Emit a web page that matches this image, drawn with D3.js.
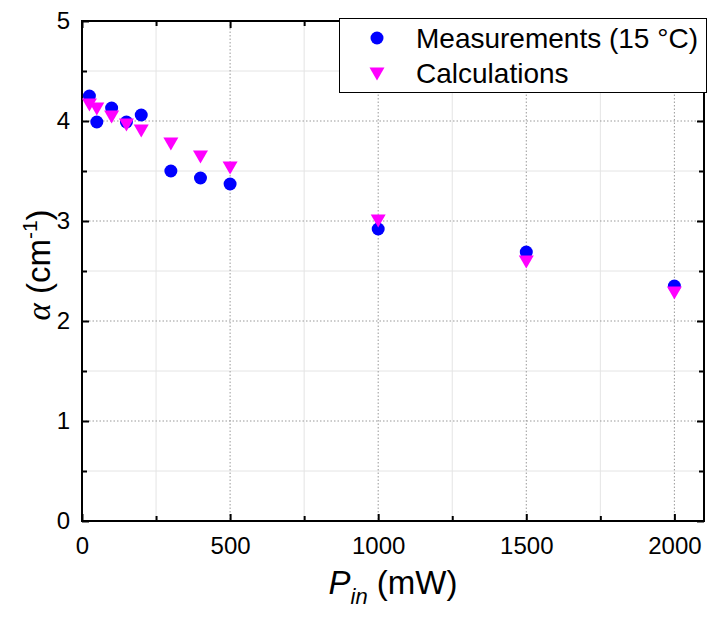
<!DOCTYPE html>
<html>
<head>
<meta charset="utf-8">
<script src="https://cdn.jsdelivr.net/npm/d3@7"></script>
<style>
  html, body { margin: 0; padding: 0; background: #fff; }
  svg { display: block; font-family: "Liberation Sans", Arial, sans-serif; }
</style>
</head>
<body>
<svg id="chart" width="708" height="619"></svg>
<script>
// ---- data ----
const powers = [25, 50, 100, 150, 200, 300, 400, 500, 1000, 1500, 2000];
const measured = [4.25, 3.99, 4.13, 3.99, 4.06, 3.50, 3.43, 3.37, 2.92, 2.69, 2.35];
const calculated = [4.16, 4.12, 4.04, 3.96, 3.90, 3.77, 3.64, 3.53, 3.00, 2.59, 2.28];
const xMajorTicks = [0, 500, 1000, 1500, 2000];
const xMinorTicks = [250, 750, 1250, 1750];
const yMajorTicks = [0, 1, 2, 3, 4, 5];
const yMinorTicks = [0.5, 1.5, 2.5, 3.5, 4.5];
const seriesNames = ["Measurements (15 °C)", "Calculations"];

const svg = d3.select("#chart");
const m = { left: 82, right: 704, top: 21, bottom: 521 };
const x = d3.scaleLinear().domain([0, 2100]).range([m.left, m.right]);
const y = d3.scaleLinear().domain([0, 5]).range([m.bottom, m.top]);

// minor grid (solid light)
const grid = svg.append("g");
grid.selectAll(".vx").data(xMinorTicks).join("line")
  .attr("x1", d => x(d)).attr("x2", d => x(d)).attr("y1", m.top).attr("y2", m.bottom)
  .attr("stroke", "#e4e4e4").attr("stroke-width", 1);
grid.selectAll(".hy").data(yMinorTicks).join("line")
  .attr("y1", d => y(d)).attr("y2", d => y(d)).attr("x1", m.left).attr("x2", m.right)
  .attr("stroke", "#e4e4e4").attr("stroke-width", 1);
// major grid (dotted)
grid.selectAll(".vX").data(xMajorTicks.filter(d => d > 0)).join("line")
  .attr("x1", d => x(d)).attr("x2", d => x(d)).attr("y1", m.top).attr("y2", m.bottom)
  .attr("stroke", "#999").attr("stroke-width", 1).attr("stroke-dasharray", "1.5,2");
grid.selectAll(".hY").data(yMajorTicks.filter(d => d > 0 && d < 5)).join("line")
  .attr("y1", d => y(d)).attr("y2", d => y(d)).attr("x1", m.left).attr("x2", m.right)
  .attr("stroke", "#999").attr("stroke-width", 1).attr("stroke-dasharray", "1.5,2");

// axes with inward ticks
const tickLen = 7, minorLen = 5;
function styleAxis(g) {
  g.select(".domain").remove();
  g.selectAll(".tick line").attr("stroke", "#000").attr("stroke-width", 2);
}
const fontSize = 24;
// bottom
const xAxisB = svg.append("g").attr("transform", `translate(0,${m.bottom})`)
  .call(d3.axisBottom(x).tickValues(xMajorTicks).tickSize(-tickLen).tickPadding(16).tickFormat(d3.format("d")));
styleAxis(xAxisB);
xAxisB.selectAll("text").attr("font-size", fontSize).attr("fill", "#000").attr("font-family", "Liberation Sans, Arial, sans-serif");
svg.append("g").attr("transform", `translate(0,${m.bottom})`)
  .call(d3.axisBottom(x).tickValues(xMinorTicks).tickSize(-minorLen).tickFormat(""))
  .call(styleAxis);
// top
svg.append("g").attr("transform", `translate(0,${m.top})`)
  .call(d3.axisTop(x).tickValues(xMajorTicks).tickSize(-tickLen).tickFormat(""))
  .call(styleAxis);
svg.append("g").attr("transform", `translate(0,${m.top})`)
  .call(d3.axisTop(x).tickValues(xMinorTicks).tickSize(-minorLen).tickFormat(""))
  .call(styleAxis);
// left
const yAxisL = svg.append("g").attr("transform", `translate(${m.left},0)`)
  .call(d3.axisLeft(y).tickValues(yMajorTicks).tickSize(-tickLen).tickPadding(12).tickFormat(d3.format("d")));
styleAxis(yAxisL);
yAxisL.selectAll("text").attr("font-size", fontSize).attr("fill", "#000").attr("font-family", "Liberation Sans, Arial, sans-serif");
svg.append("g").attr("transform", `translate(${m.left},0)`)
  .call(d3.axisLeft(y).tickValues(yMinorTicks).tickSize(-minorLen).tickFormat(""))
  .call(styleAxis);
// right
svg.append("g").attr("transform", `translate(${m.right},0)`)
  .call(d3.axisRight(y).tickValues(yMajorTicks).tickSize(-tickLen).tickFormat(""))
  .call(styleAxis);
svg.append("g").attr("transform", `translate(${m.right},0)`)
  .call(d3.axisRight(y).tickValues(yMinorTicks).tickSize(-minorLen).tickFormat(""))
  .call(styleAxis);

// frame
svg.append("rect").attr("x", m.left).attr("y", m.top)
  .attr("width", m.right - m.left).attr("height", m.bottom - m.top)
  .attr("fill", "none").attr("stroke", "#000").attr("stroke-width", 2);

// data
const pts = powers.map((p, i) => ({ p, meas: measured[i], calc: calculated[i] }));
const tri = (cx, cy) => `M${cx - 7.5},${cy - 6.5}L${cx + 7.5},${cy - 6.5}L${cx},${cy + 6.5}Z`;
svg.append("g").selectAll("circle").data(pts).join("circle")
  .attr("cx", d => x(d.p)).attr("cy", d => y(d.meas)).attr("r", 6.5).attr("fill", "#0000ff");
svg.append("g").selectAll("path").data(pts).join("path")
  .attr("d", d => tri(x(d.p), y(d.calc))).attr("fill", "#ff00ff");

// legend
const lg = svg.append("g");
lg.append("rect").attr("x", 339.5).attr("y", 18.5).attr("width", 367).attr("height", 74)
  .attr("fill", "#fff").attr("stroke", "#000").attr("stroke-width", 1);
lg.append("circle").attr("cx", 377).attr("cy", 38).attr("r", 6.5).attr("fill", "#0000ff");
lg.append("path").attr("d", tri(377, 74)).attr("fill", "#ff00ff");
lg.append("text").attr("x", 416).attr("y", 48).attr("font-size", 28).text(seriesNames[0]);
lg.append("text").attr("x", 416).attr("y", 83).attr("font-size", 28).text(seriesNames[1]);

// axis titles
const xt = svg.append("text").attr("x", (m.left + m.right) / 2).attr("y", 594)
  .attr("text-anchor", "middle").attr("font-size", 33);
xt.append("tspan").attr("font-style", "italic").text("P");
xt.append("tspan").attr("font-style", "italic").attr("font-size", 22).attr("dy", 10).text("in");
xt.append("tspan").attr("dy", -10).text(" (mW)");

const yt = svg.append("text")
  .attr("transform", `translate(50,${(m.top + m.bottom) / 2 - 6}) rotate(-90)`)
  .attr("text-anchor", "middle").attr("font-size", 33);
yt.append("tspan").attr("font-style", "italic").attr("font-family", "Liberation Serif, serif").text("α");
yt.append("tspan").text(" (cm");
yt.append("tspan").attr("font-size", 21).attr("dy", -13).text("-1");
yt.append("tspan").attr("dy", 13).text(")");
</script>
</body>
</html>
